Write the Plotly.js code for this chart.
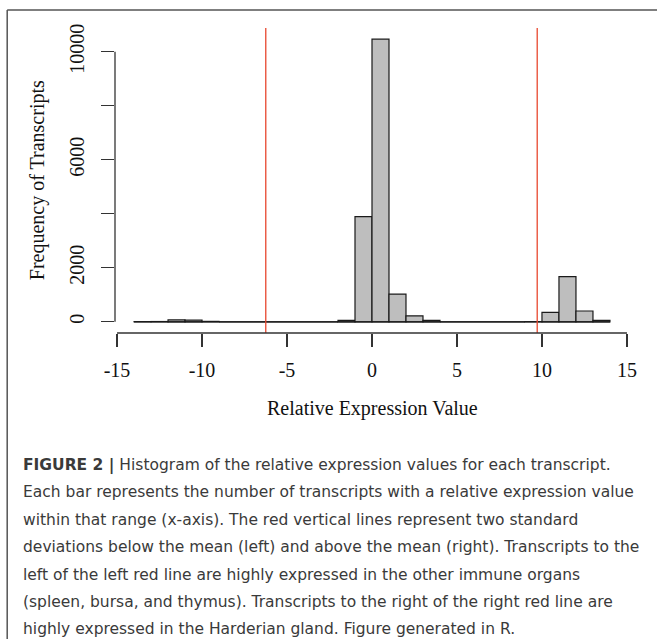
<!DOCTYPE html>
<html>
<head>
<meta charset="utf-8">
<script src="https://cdn.plot.ly/plotly-3.0.1.min.js"></script>
<style>html,body{margin:0;padding:0;background:#fff;}#chart{width:657px;height:639px;}</style>
</head>
<body>
<div id="chart"></div>
<script>
// ---- data ----
const binBreaks = [-14,-13,-12,-11,-10,-9,-8,-7,-6,-5,-4,-3,-2,-1,0,1,2,3,4,5,6,7,8,9,10,11,12,13,14];
const binCounts = [5,10,70,60,15,0,0,0,0,0,0,0,50,3890,10460,1025,220,50,0,0,0,0,0,5,350,1670,400,50];
const cutoffLines = [-6.25, 9.72];
const xTickVals = [-15,-10,-5,0,5,10,15];
const yTickVals = [0,2000,4000,6000,8000,10000];
const yTickText = ['0','2000','','6000','','10000'];
const xTitle = 'Relative Expression Value';
const yTitle = 'Frequency of Transcripts';
const captionLines = [
  '<b>FIGURE 2 |</b> Histogram of the relative expression values for each transcript.',
  'Each bar represents the number of transcripts with a relative expression value',
  'within that range (x-axis). The red vertical lines represent two standard',
  'deviations below the mean (left) and above the mean (right). Transcripts to the',
  'left of the left red line are highly expressed in the other immune organs',
  '(spleen, bursa, and thymus). Transcripts to the right of the right red line are',
  'highly expressed in the Harderian gland. Figure generated in R.'
];

// ---- layout helpers ----
const L = 115.3, T = 28, W = 514, H = 305;
const FW = 657, FH = 639;
const px = v => (v - L) / W;
const py = v => (T + H - v) / H;

const centers = binCounts.map((c, i) => (binBreaks[i] + binBreaks[i + 1]) / 2);
const widths = binCounts.map((c, i) => binBreaks[i + 1] - binBreaks[i]);

const serif = 'Liberation Serif, Times New Roman, serif';
const sans = 'DejaVu Sans, Liberation Sans, Arial, sans-serif';

const traces = [
  {
    type: 'bar', x: centers, y: binCounts, width: widths,
    marker: {color: '#bebebe', line: {color: '#1a1a1a', width: 1.2}},
    hoverinfo: 'x+y', showlegend: false
  },
  {
    type: 'scatter', mode: 'lines',
    x: [binBreaks[0], binBreaks[binBreaks.length - 1]], y: [0, 0],
    line: {color: '#1a1a1a', width: 1.2}, hoverinfo: 'skip', showlegend: false
  }
];

const shapes = [];
cutoffLines.forEach(v => shapes.push({
  type: 'line', xref: 'x', yref: 'paper', x0: v, x1: v, y0: 0, y1: 1,
  line: {color: '#e8472e', width: 1.3}
}));
// R-style axis lines spanning first..last tick
shapes.push({type: 'line', xref: 'x', yref: 'paper',
  x0: xTickVals[0], x1: xTickVals[xTickVals.length - 1], y0: 0, y1: 0,
  line: {color: '#333', width: 1.3}});
shapes.push({type: 'line', xref: 'paper', yref: 'y',
  x0: 0, x1: 0, y0: yTickVals[0], y1: yTickVals[yTickVals.length - 1],
  line: {color: '#333', width: 1.3}});
// figure frame (top and left)
shapes.push({type: 'line', xref: 'paper', yref: 'paper', layer: 'above',
  x0: px(7.5), x1: px(FW + 2), y0: py(10), y1: py(10), line: {color: '#555', width: 1.5}});
shapes.push({type: 'line', xref: 'paper', yref: 'paper', layer: 'above',
  x0: px(7.5), x1: px(7.5), y0: py(10), y1: py(FH + 2), line: {color: '#555', width: 1.5}});

const annotations = [
  {text: xTitle, xref: 'paper', yref: 'paper', x: 0.5, y: py(408),
   xanchor: 'center', yanchor: 'middle', showarrow: false,
   font: {family: serif, size: 20, color: '#111'}},
  {text: yTitle, xref: 'paper', yref: 'paper', x: px(38), y: 0.5,
   xanchor: 'center', yanchor: 'middle', textangle: -90, showarrow: false,
   font: {family: serif, size: 20, color: '#111'}}
];
const capY0 = 465, capStep = 27.4;
captionLines.forEach((t, i) => annotations.push({
  text: t, xref: 'paper', yref: 'paper', x: px(21), y: py(capY0 + i * capStep),
  xanchor: 'left', yanchor: 'middle', showarrow: false, align: 'left',
  font: {family: sans, size: 15.5, color: '#3a3a3a'}
}));

const layout = {
  width: FW, height: FH,
  margin: {l: L, r: FW - L - W, t: T, b: FH - T - H, pad: 0},
  paper_bgcolor: '#fff', plot_bgcolor: '#fff',
  showlegend: false, bargap: 0,
  xaxis: {
    range: [-15.12, 15.12], tickvals: xTickVals, ticktext: xTickVals.map(String),
    ticks: 'outside', ticklen: 13, tickwidth: 1.3, tickcolor: '#333',
    showgrid: false, zeroline: false, showline: false, fixedrange: true,
    ticklabelstandoff: 6,
    tickfont: {family: serif, size: 20, color: '#111'}
  },
  yaxis: {
    range: [-415, 10875], tickvals: yTickVals, ticktext: yTickText,
    ticks: 'outside', ticklen: 13, tickwidth: 1.3, tickcolor: '#333',
    showgrid: false, zeroline: false, showline: false, fixedrange: true,
    tickangle: -90, ticklabelstandoff: 9,
    tickfont: {family: serif, size: 20, color: '#111'}
  },
  shapes: shapes,
  annotations: annotations
};

Plotly.newPlot('chart', traces, layout, {staticPlot: true, displayModeBar: false});
</script>
</body>
</html>
